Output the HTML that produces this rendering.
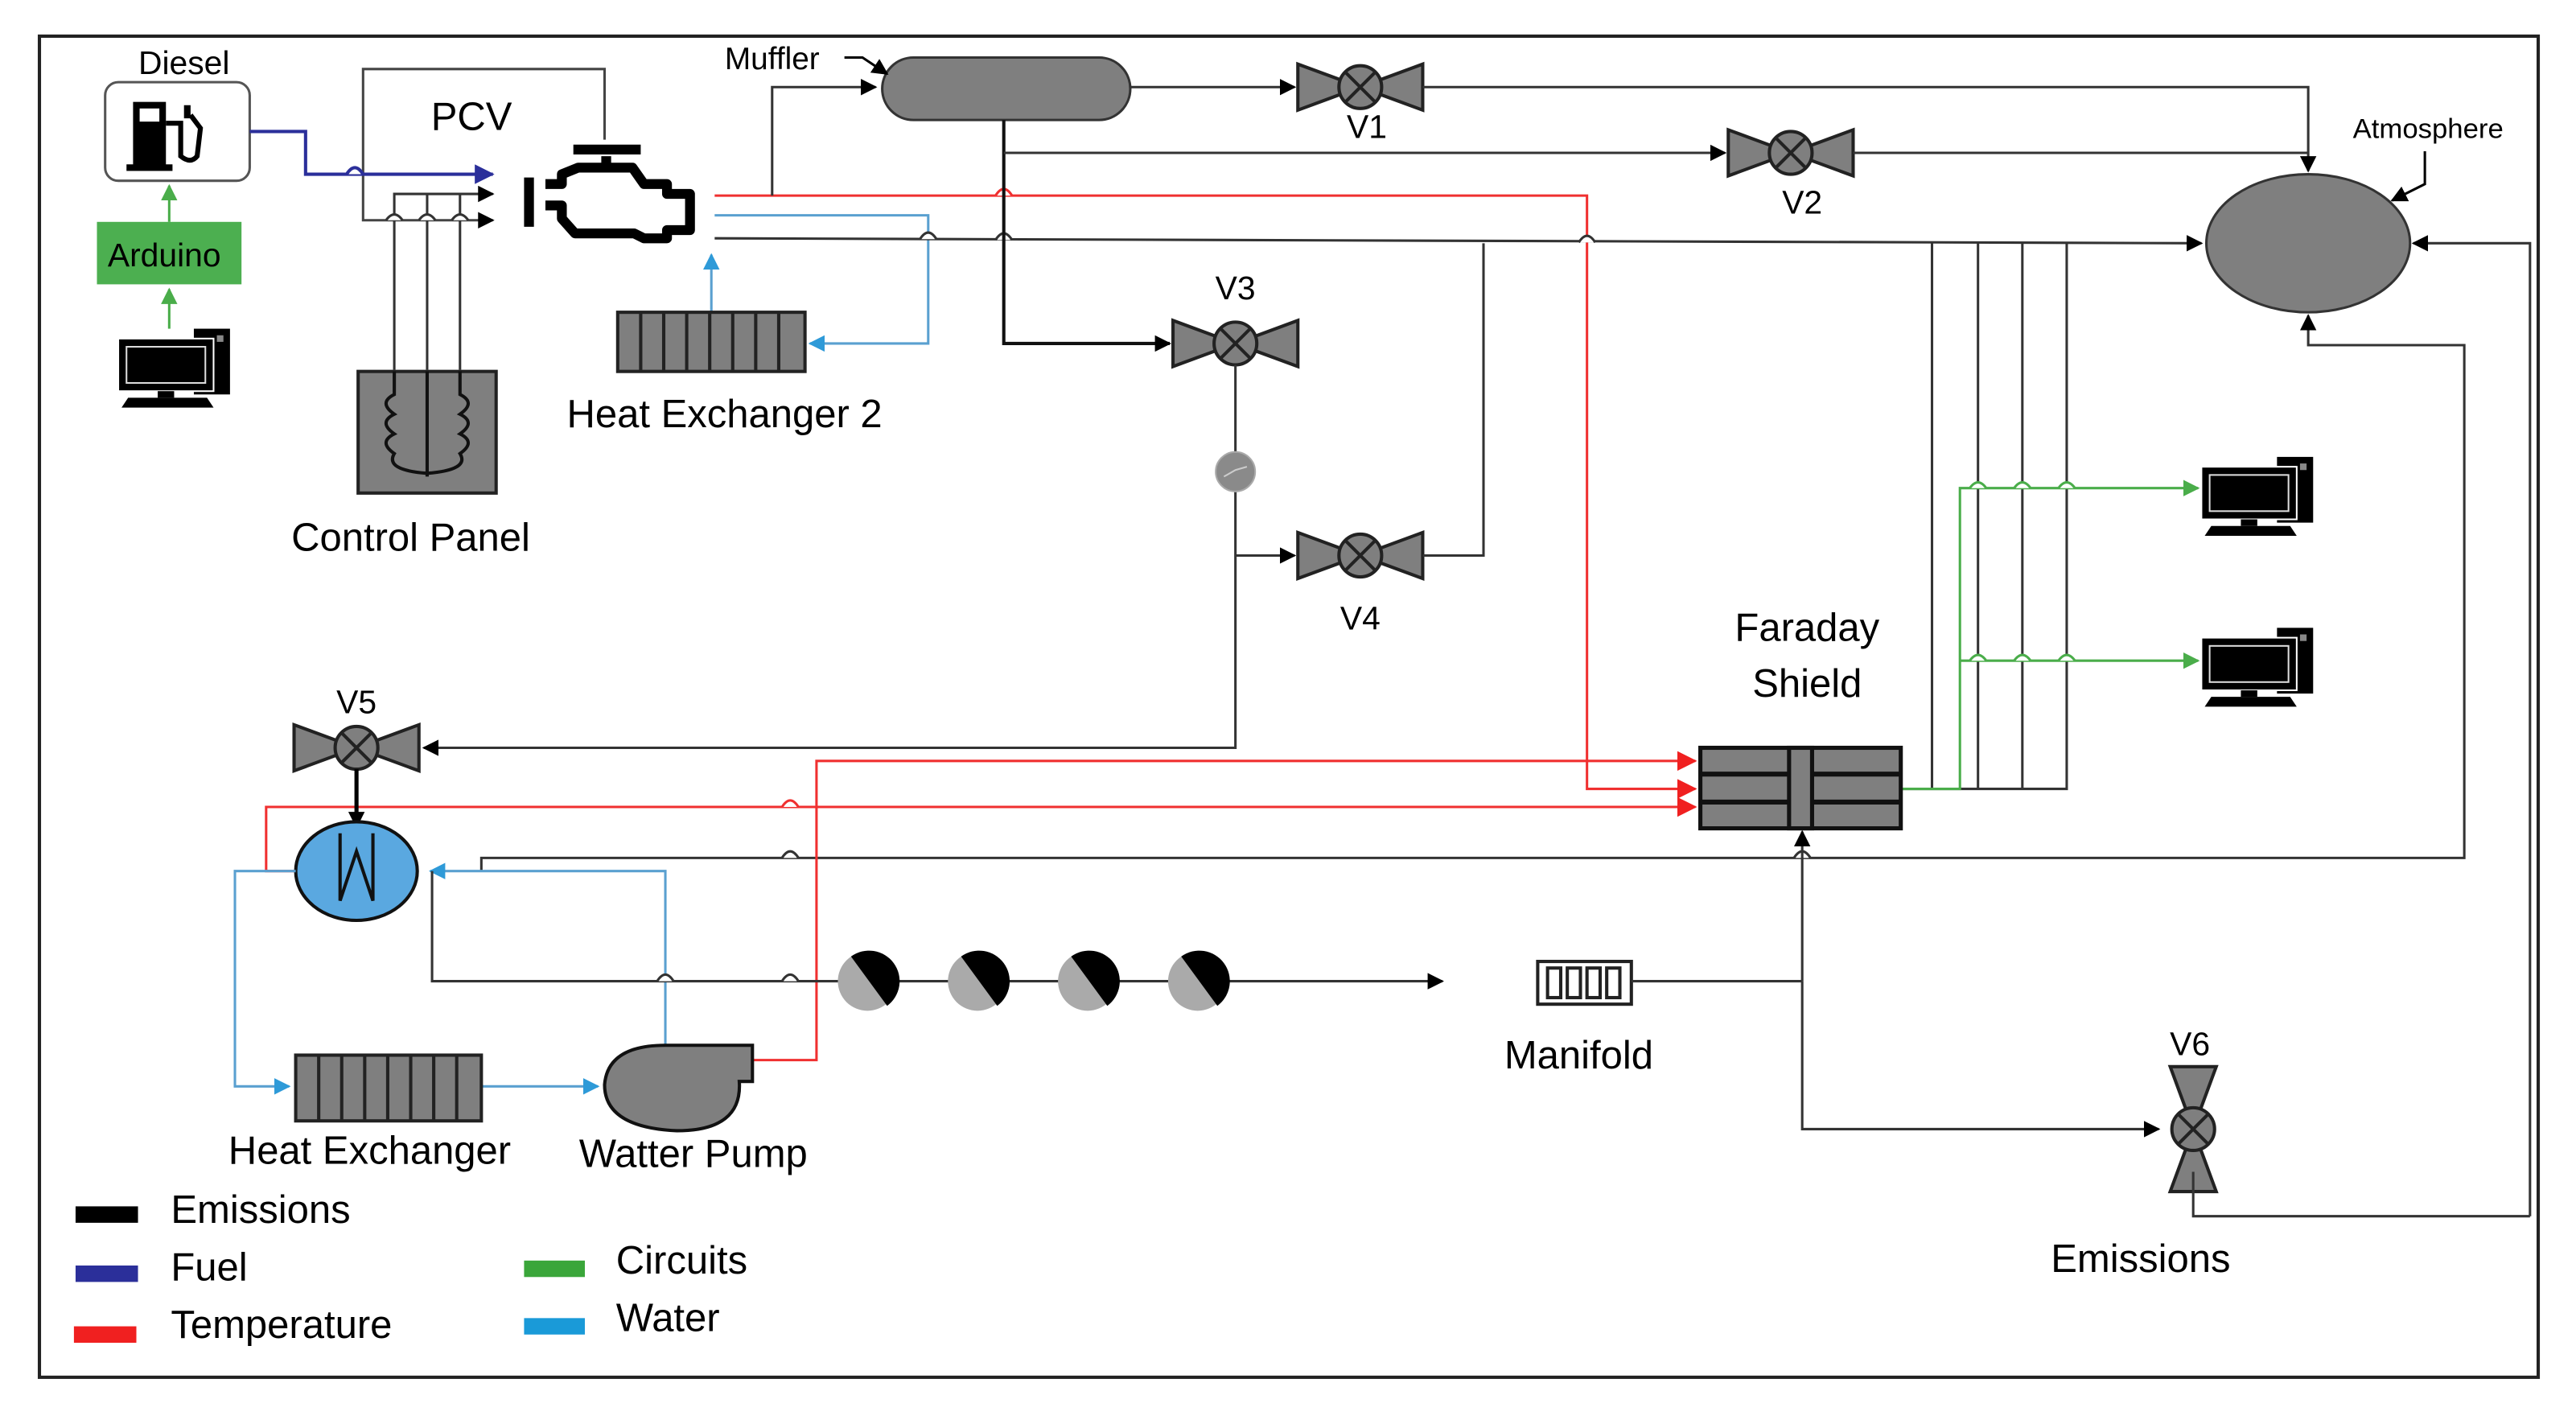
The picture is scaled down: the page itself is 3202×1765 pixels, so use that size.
<!DOCTYPE html>
<html><head><meta charset="utf-8"><style>
html,body{margin:0;padding:0;background:#fff;}
svg{display:block;}
text{font-family:"Liberation Sans Narrow","Liberation Sans",sans-serif;fill:#000;}
</style></head><body>
<svg width="3202" height="1765" viewBox="0 0 1568 864" preserveAspectRatio="none" xmlns="http://www.w3.org/2000/svg">
<defs>
<marker id="ak" markerWidth="10" markerHeight="10" refX="9" refY="5" orient="auto" markerUnits="userSpaceOnUse"><path d="M0,0 L10,5 L0,10z" fill="#000"/></marker>
<marker id="ab" markerWidth="12" markerHeight="12" refX="11" refY="6" orient="auto" markerUnits="userSpaceOnUse"><path d="M0,0 L12,6 L0,12z" fill="#2b2f9a"/></marker>
<marker id="ar" markerWidth="12" markerHeight="12" refX="11" refY="6" orient="auto" markerUnits="userSpaceOnUse"><path d="M0,0 L12,6 L0,12z" fill="#f02020"/></marker>
<marker id="aw" markerWidth="10" markerHeight="10" refX="9" refY="5" orient="auto" markerUnits="userSpaceOnUse"><path d="M0,0 L10,5 L0,10z" fill="#2e9ad8"/></marker>
<marker id="ag" markerWidth="10" markerHeight="10" refX="9" refY="5" orient="auto" markerUnits="userSpaceOnUse"><path d="M0,0 L10,5 L0,10z" fill="#4aad4a"/></marker>
<g id="valve">
<path d="M-38,-14 L0,0 L-38,14z M38,-14 L0,0 L38,14z" fill="#7f7f7f" stroke="#222" stroke-width="2"/>
<circle r="13" fill="#7f7f7f" stroke="#222" stroke-width="2"/>
<path d="M-9,-9 L9,9 M-9,9 L9,-9" stroke="#222" stroke-width="2"/>
</g>
<g id="pc">
<rect x="48" y="0" width="22" height="40" fill="#000"/>
<rect x="62" y="4" width="4" height="4" fill="#888"/>
<rect x="2" y="6" width="58" height="32" fill="#000" stroke="#fff" stroke-width="1"/>
<rect x="7" y="11" width="48" height="22" fill="#000" stroke="#ddd" stroke-width="1"/>
<rect x="26" y="38" width="10" height="4" fill="#000"/>
<path d="M4,48 L8,42 L56,42 L60,48z" fill="#000"/>
</g>
</defs>

<!-- frame -->
<rect x="24" y="22" width="1521" height="816" fill="none" stroke="#222" stroke-width="2"/>

<!-- Diesel -->
<text x="112" y="45" font-size="20" text-anchor="middle">Diesel</text>
<rect x="64" y="50" width="88" height="60" rx="8" fill="#fff" stroke="#555" stroke-width="1.5"/>
<rect x="81" y="62" width="20" height="40" fill="#000"/>
<rect x="85" y="66" width="12" height="8" fill="#fff"/>
<rect x="77" y="100" width="28" height="4" fill="#000"/>
<path d="M101,75 L110,75 L110,95 Q116,100 120,95 L122,78 L116,70" fill="none" stroke="#000" stroke-width="3"/>
<rect x="112" y="64" width="4" height="8" fill="#000"/>

<!-- Arduino -->
<rect x="59" y="135" width="88" height="38" fill="#4caf50"/>
<text x="100" y="162" font-size="20" text-anchor="middle">Arduino</text>
<line x1="103" y1="135" x2="103" y2="113" stroke="#4aad4a" stroke-width="1.5" marker-end="url(#ag)"/>
<line x1="103" y1="200" x2="103" y2="176" stroke="#4aad4a" stroke-width="1.5" marker-end="url(#ag)"/>
<use href="#pc" x="70" y="200"/>

<!-- PCV -->
<text x="287" y="79" font-size="24" text-anchor="middle">PCV</text>
<polyline points="368,85 368,42 221,42 221,134 300,134" fill="none" stroke="#444" stroke-width="1.5" marker-end="url(#ak)"/>
<polyline points="152,80 186,80 186,106 300,106" fill="none" stroke="#2b2f9a" stroke-width="2" marker-end="url(#ab)"/>
<path d="M211,106 q5,-8 10,0" fill="#fff" stroke="#2b2f9a" stroke-width="2"/>
<polyline points="240,225 240,118 300,118" fill="none" stroke="#333" stroke-width="1.5" marker-end="url(#ak)"/>
<line x1="260" y1="118" x2="260" y2="225" stroke="#333" stroke-width="1.5"/>
<line x1="280" y1="118" x2="280" y2="225" stroke="#333" stroke-width="1.5"/>
<g fill="#fff" stroke="#333" stroke-width="1.5"><path d="M235,134 q5,-7 10,0"/><path d="M255,134 q5,-7 10,0"/><path d="M275,134 q5,-7 10,0"/></g>

<!-- engine -->
<path d="M349,91 H390 M369,95 V102 M332,112 H342 L342,106 L352,102 L385,102 L392,112 L406,112 L406,118 L420,118 L420,140 L406,140 L406,145 L392,145 L386,142 L350,142 L342,133 L342,125 L332,125 M322,108 L322,138" fill="none" stroke="#000" stroke-width="6" stroke-linejoin="round"/>

<!-- control panel -->
<rect x="218" y="226" width="84" height="74" fill="#7f7f7f" stroke="#222" stroke-width="2"/>
<line x1="260" y1="226" x2="260" y2="290" stroke="#111" stroke-width="2"/>
<path d="M240,226 V240 q-10,5 0,12 q-10,5 0,12 q-10,5 0,12 q-6,10 20,12 q26,-2 20,-12 q10,-7 0,-12 q10,-7 0,-12 q10,-7 0,-12 V226" fill="none" stroke="#111" stroke-width="2"/>
<text x="250" y="335" font-size="24" text-anchor="middle">Control Panel</text>

<!-- lines from engine -->
<polyline points="435,119 966,119 966,480 1032,480" fill="none" stroke="#f03030" stroke-width="1.5" marker-end="url(#ar)"/>
<path d="M606,119 q5,-8 10,0" fill="#fff" stroke="#f03030" stroke-width="1.5"/>
<polyline points="435,131 565,131 565,209 493,209" fill="none" stroke="#5aa0d0" stroke-width="1.5" marker-end="url(#aw)"/>
<line x1="433" y1="190" x2="433" y2="155" stroke="#5aa0d0" stroke-width="1.5" marker-end="url(#aw)"/>
<polyline points="435,145 1340,148" fill="none" stroke="#333" stroke-width="1.5" marker-end="url(#ak)"/>
<g fill="#fff" stroke="#333" stroke-width="1.5"><path d="M560,145.5 q5,-8 10,0"/><path d="M606,146 q5,-8 10,0"/><path d="M961,147.5 q5,-8 10,0"/></g>
<polyline points="470,119 470,53 533,53" fill="none" stroke="#333" stroke-width="1.5" marker-end="url(#ak)"/>

<!-- HX2 -->
<rect x="376" y="190" width="114" height="36" fill="#7f7f7f" stroke="#222" stroke-width="2"/>
<g stroke="#222" stroke-width="2"><line x1="390" y1="190" x2="390" y2="226"/><line x1="404" y1="190" x2="404" y2="226"/><line x1="418" y1="190" x2="418" y2="226"/><line x1="432" y1="190" x2="432" y2="226"/><line x1="446" y1="190" x2="446" y2="226"/><line x1="460" y1="190" x2="460" y2="226"/><line x1="474" y1="190" x2="474" y2="226"/></g>
<text x="441" y="260" font-size="24" text-anchor="middle">Heat Exchanger 2</text>

<!-- Muffler -->
<rect x="537" y="35" width="151" height="38" rx="19" fill="#7f7f7f" stroke="#333" stroke-width="1.5"/>
<text x="470" y="42" font-size="19" text-anchor="middle">Muffler</text>
<path d="M514,35 H525 L540,45" fill="none" stroke="#000" stroke-width="1.5" marker-end="url(#ak)"/>
<line x1="688" y1="53" x2="788" y2="53" stroke="#333" stroke-width="1.5" marker-end="url(#ak)"/>
<use href="#valve" x="828" y="53"/>
<text x="832" y="84" font-size="20" text-anchor="middle">V1</text>
<polyline points="866,53 1405,53 1405,104" fill="none" stroke="#333" stroke-width="1.5" marker-end="url(#ak)"/>
<polyline points="611,73 611,209 712,209" fill="none" stroke="#111" stroke-width="2" marker-end="url(#ak)"/>
<line x1="611" y1="93" x2="1050" y2="93" stroke="#333" stroke-width="1.5" marker-end="url(#ak)"/>
<use href="#valve" x="1090" y="93"/>
<text x="1097" y="130" font-size="20" text-anchor="middle">V2</text>
<line x1="1128" y1="93" x2="1405" y2="93" stroke="#333" stroke-width="1.5"/>

<!-- V3 / V4 -->
<use href="#valve" x="752" y="209"/>
<text x="752" y="182" font-size="20" text-anchor="middle">V3</text>
<polyline points="752,222 752,455 258,455" fill="none" stroke="#333" stroke-width="1.5" marker-end="url(#ak)"/>
<circle cx="752" cy="287" r="12" fill="#8a8a8a" stroke="#aaa"/>
<path d="M745,290 L752,286 L759,284" stroke="#ccc" fill="none"/>
<line x1="752" y1="338" x2="788" y2="338" stroke="#333" stroke-width="1.5" marker-end="url(#ak)"/>
<use href="#valve" x="828" y="338"/>
<text x="828" y="383" font-size="20" text-anchor="middle">V4</text>
<polyline points="866,338 903,338 903,148" fill="none" stroke="#333" stroke-width="1.5"/>

<!-- Atmosphere -->
<ellipse cx="1405" cy="148" rx="62" ry="42" fill="#7f7f7f" stroke="#333" stroke-width="1.5"/>
<text x="1478" y="84" font-size="17" text-anchor="middle">Atmosphere</text>
<path d="M1476,92 V112 L1456,122" fill="none" stroke="#000" stroke-width="1.5" marker-end="url(#ak)"/>
<polyline points="1540,740 1540,148 1469,148" fill="none" stroke="#333" stroke-width="1.5" marker-end="url(#ak)"/>
<polyline points="293,530 293,522 1500,522 1500,210 1405,210 1405,192" fill="none" stroke="#333" stroke-width="1.5" marker-end="url(#ak)"/>
<g fill="#fff" stroke="#333" stroke-width="1.5"><path d="M476,522 q5,-8 10,0"/><path d="M1092,522 q5,-8 10,0"/></g>

<!-- vertical signal lines -->
<g stroke="#333" stroke-width="1.5" fill="none">
<polyline points="1176,148 1176,480"/><polyline points="1204,148 1204,480"/><polyline points="1231,148 1231,480"/><polyline points="1258,148 1258,480 1157,480"/>
</g>
<polyline points="1157,480 1193,480 1193,297 1338,297" fill="none" stroke="#4aad4a" stroke-width="1.5" marker-end="url(#ag)"/>
<line x1="1193" y1="402" x2="1338" y2="402" stroke="#4aad4a" stroke-width="1.5" marker-end="url(#ag)"/>
<g fill="#fff" stroke="#4aad4a" stroke-width="1.5"><path d="M1199,297 q5,-7 10,0"/><path d="M1226,297 q5,-7 10,0"/><path d="M1253,297 q5,-7 10,0"/><path d="M1199,402 q5,-7 10,0"/><path d="M1226,402 q5,-7 10,0"/><path d="M1253,402 q5,-7 10,0"/></g>
<use href="#pc" x="1338" y="278"/>
<use href="#pc" x="1338" y="382"/>

<!-- Faraday -->
<text x="1100" y="390" font-size="24" text-anchor="middle">Faraday</text>
<text x="1100" y="424" font-size="24" text-anchor="middle">Shield</text>
<rect x="1035" y="455" width="122" height="49" fill="#7f7f7f" stroke="#111" stroke-width="2.5"/>
<g stroke="#111" stroke-width="3"><line x1="1035" y1="471" x2="1157" y2="471"/><line x1="1035" y1="488" x2="1157" y2="488"/></g>
<rect x="1089" y="455" width="14" height="49" fill="#7f7f7f" stroke="#111" stroke-width="2.5"/>

<!-- red to faraday -->
<polyline points="458,645 497,645 497,463 1032,463" fill="none" stroke="#f03030" stroke-width="1.5" marker-end="url(#ar)"/>
<polyline points="180,530 162,530 162,491 1032,491" fill="none" stroke="#f03030" stroke-width="1.5" marker-end="url(#ar)"/>
<path d="M476,491 q5,-8 10,0" fill="#fff" stroke="#f03030" stroke-width="1.5"/>

<!-- V5 + HX circle -->
<use href="#valve" x="217" y="455"/>
<text x="217" y="434" font-size="20" text-anchor="middle">V5</text>
<line x1="217" y1="468" x2="217" y2="503" stroke="#000" stroke-width="2.5" marker-end="url(#ak)"/>
<ellipse cx="217" cy="530" rx="37" ry="30" fill="#5aa8e0" stroke="#111" stroke-width="2"/>
<path d="M207,507 V548 L217,518 L227,548 V507" fill="none" stroke="#111" stroke-width="2"/>

<!-- water loop -->
<polyline points="180,530 143,530 143,661 176,661" fill="none" stroke="#5aa0d0" stroke-width="1.5" marker-end="url(#aw)"/>
<line x1="293" y1="661" x2="364" y2="661" stroke="#5aa0d0" stroke-width="1.5" marker-end="url(#aw)"/>
<polyline points="405,636 405,530 262,530" fill="none" stroke="#5aa0d0" stroke-width="1.5" marker-end="url(#aw)"/>

<!-- emission line to manifold -->
<polyline points="263,530 263,597 878,597" fill="none" stroke="#333" stroke-width="1.5" marker-end="url(#ak)"/>
<g fill="#fff" stroke="#333" stroke-width="1.5"><path d="M400,597 q5,-8 10,0"/><path d="M476,597 q5,-8 10,0"/></g>
<g>
<circle cx="528" cy="597" r="18" fill="#aaa"/><path d="M518,582 A18,18 0 0 1 540,612z" fill="#000"/>
<circle cx="595" cy="597" r="18" fill="#aaa"/><path d="M585,582 A18,18 0 0 1 607,612z" fill="#000"/>
<circle cx="662" cy="597" r="18" fill="#aaa"/><path d="M652,582 A18,18 0 0 1 674,612z" fill="#000"/>
<circle cx="729" cy="597" r="18" fill="#aaa"/><path d="M719,582 A18,18 0 0 1 741,612z" fill="#000"/>
</g>
<rect x="936" y="585" width="57" height="26" fill="#fff" stroke="#222" stroke-width="2"/>
<g stroke="#222" stroke-width="2" fill="none"><rect x="942" y="589" width="8" height="18"/><rect x="954" y="589" width="8" height="18"/><rect x="966" y="589" width="8" height="18"/><rect x="978" y="589" width="8" height="18"/></g>
<text x="961" y="650" font-size="24" text-anchor="middle">Manifold</text>
<polyline points="993,597 1097,597" fill="none" stroke="#333" stroke-width="1.5"/>
<line x1="1097" y1="597" x2="1097" y2="506" stroke="#333" stroke-width="1.5" marker-end="url(#ak)"/>
<polyline points="1097,597 1097,687 1314,687" fill="none" stroke="#333" stroke-width="1.5" marker-end="url(#ak)"/>

<!-- V6 -->
<g transform="translate(1335,687) rotate(90)"><use href="#valve"/></g>
<text x="1333" y="642" font-size="20" text-anchor="middle">V6</text>
<polyline points="1335,713 1335,740 1540,740" fill="none" stroke="#333" stroke-width="1.5"/>
<text x="1303" y="774" font-size="24" text-anchor="middle">Emissions</text>

<!-- Heat exchanger & pump -->
<rect x="180" y="642" width="113" height="40" fill="#7f7f7f" stroke="#222" stroke-width="2"/>
<g stroke="#222" stroke-width="2"><line x1="194" y1="642" x2="194" y2="682"/><line x1="208" y1="642" x2="208" y2="682"/><line x1="222" y1="642" x2="222" y2="682"/><line x1="236" y1="642" x2="236" y2="682"/><line x1="250" y1="642" x2="250" y2="682"/><line x1="264" y1="642" x2="264" y2="682"/><line x1="278" y1="642" x2="278" y2="682"/></g>
<text x="225" y="708" font-size="24" text-anchor="middle">Heat Exchanger</text>
<path d="M405,636 H458 V658 H450 Q452,688 412,688 Q368,686 368,660 Q370,636 405,636z" fill="#7f7f7f" stroke="#111" stroke-width="2"/>
<text x="422" y="710" font-size="24" text-anchor="middle">Watter Pump</text>

<!-- legend -->
<rect x="46" y="734" width="38" height="10" fill="#000"/>
<text x="104" y="744" font-size="24">Emissions</text>
<rect x="46" y="770" width="38" height="10" fill="#2b2f9a"/>
<text x="104" y="779" font-size="24">Fuel</text>
<rect x="45" y="807" width="38" height="10" fill="#f02020"/>
<text x="104" y="814" font-size="24">Temperature</text>
<rect x="319" y="767" width="37" height="10" fill="#3aa63a"/>
<text x="375" y="775" font-size="24">Circuits</text>
<rect x="319" y="802" width="37" height="10" fill="#1a9ad8"/>
<text x="375" y="810" font-size="24">Water</text>
</svg>
</body></html>
